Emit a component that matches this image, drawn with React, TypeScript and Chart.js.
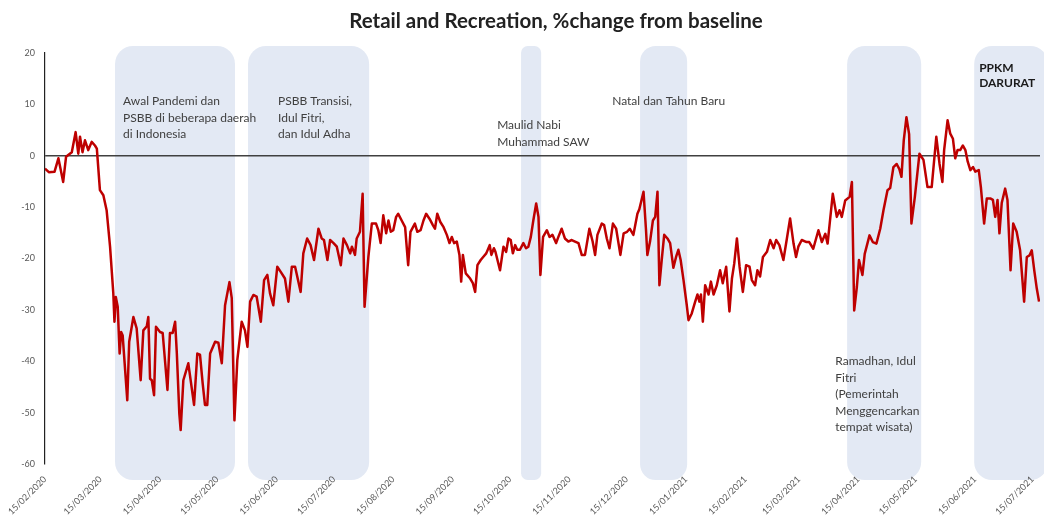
import React, { useEffect, useRef } from "react";
import { Chart, registerables } from "chart.js";

Chart.register(...registerables);

// Days since 15/02/2020 (vertices)
const dayIndex = [
  0, 2, 5, 7, 9.5, 11, 14, 16, 17.4, 18.3, 19.6, 20.9, 22.6, 24.4, 26.1, 27.1, 28.7, 30.5, 32.2, 34,
  35.7, 36.3, 37, 38, 39, 39.8, 40.6, 43, 44, 46.2, 47.9, 50, 51.4, 53.2, 54, 54.9, 55.8, 57, 58, 60.1,
  61.5, 64, 65.3, 66.7, 68, 68.9, 70.2, 70.9, 72.3, 74.9, 77.9, 79.6, 81, 82.4, 83.6, 84.8, 86.3, 88.9, 90.6, 92.4,
  94.1, 96.4, 97.6, 99, 100.5, 102.8, 104.5, 105.8, 107.2, 108.9, 110.6, 112.8, 114.5, 116.2, 117.6, 119.3, 121.4, 123.2, 125.4, 127.2,
  129, 130.7, 133.6, 135, 137, 138.8, 140.6, 142.9, 144.6, 145.8, 147.6, 149, 150.8, 152.5, 154.6, 156, 157.8, 159.5, 160.4, 162,
  162.9, 164.6, 166, 167, 169, 170.8, 173, 174.2, 175.4, 176.8, 178.3, 179.5, 180.7, 182, 183.5, 184.6, 186.4, 188.2, 189.8, 191,
  193.3, 194.6, 196.3, 197.8, 199.2, 201, 202.7, 203.8, 205, 206.6, 208.3, 210, 211.4, 212.6, 213.8, 215.2, 216.6, 217.5, 218.4, 219.9,
  222.2, 223.6, 224.8, 226, 227.7, 229, 230.6, 232.4, 233.3, 234.6, 235.4, 237.8, 239.6, 241, 242.2, 243.4, 244.5, 245.7, 246.8, 248.2,
  250, 251.4, 252.6, 253.9, 255.2, 256.7, 257.9, 258.9, 260.3, 262.3, 263.7, 265.2, 267.1, 268.3, 270, 271.7, 273.5, 275.3, 277, 278.8,
  280.5, 282.2, 284.5, 286.2, 287.5, 288.7, 291, 292.2, 293.6, 295, 296.8, 298.5, 300.7, 302.4, 304.2, 305.6, 307.5, 309.6, 310.6, 312.8,
  314.1, 314.8, 316.2, 317.7, 318.9, 320.1, 321.1, 322.3, 323.6, 325.3, 326.7, 328.4, 329.8, 331, 332.2, 333.7, 335.4, 336.3, 338, 339.8,
  341, 342, 342.8, 343.8, 345, 346.8, 348, 349.4, 351.1, 352.8, 354.2, 356, 357.7, 359, 360.2, 361.6, 363, 364.7, 366.4, 368.2,
  369.4, 371.1, 372.3, 373.7, 375.2, 377.3, 379, 380.8, 382.1, 383.8, 385.9, 387.6, 389.4, 391.2, 392.5, 393.7, 395.5, 398, 399.4, 401.5,
  404.2, 406, 407.8, 409, 411.7, 413.8, 415.2, 416.4, 418.2, 420.5, 421.7, 422.9, 424.3, 425.4, 427.2, 428.4, 430.9, 432.6, 434.5, 436.5,
  438.2, 440.3, 441.7, 443.4, 445.1, 446.5, 447.6, 448.8, 450.2, 451.6, 452.8, 454.6, 457, 459.1, 461.2, 463.4, 465.8, 467.5, 469, 469.9,
  471.7, 473.1, 474.5, 475.7, 476.9, 478.3, 479.7, 481, 482.2, 483.6, 485, 486.2, 488, 489.1, 490.8, 492.2, 494, 495.4, 496.6, 497.8,
  498.8, 500, 501.8, 503, 504.6, 506, 507.8, 509.6, 511.7, 513.1, 514.5, 515.7, 517, 518.3, 519.5,
];

// Retail and Recreation, % change from baseline
const changePct = [
  -2.5, -3.2, -3.1, -0.5, -5.1, -0.2, 0.7, 4.6, 0.4, 3.7, 0.7, 3.0, 1.1, 2.7, 2.0, 1.4, -6.7, -7.7, -10.6, -17.7,
  -26.8, -32.3, -27.5, -29.4, -38.5, -34.3, -35, -47.6, -36.2, -31.4, -33.6, -43.7, -34, -33.2, -31.4, -43.4, -43.7, -46.6, -33.3, -34.3,
  -34.5, -45.6, -34.5, -34.5, -32.3, -38.5, -50.2, -53.4, -43.7, -40.4, -48.5, -38.5, -38.7, -44.3, -48.5, -48.5, -38.5, -36.2, -36.4, -40.4,
  -29.1, -24.6, -27.7, -51.5, -39.8, -32.3, -34, -37.2, -28.4, -27.1, -27.4, -32.3, -24.2, -23.2, -26.8, -29.1, -21.6, -22.6, -23.9, -28.4,
  -21.6, -21.6, -26.5, -19.0, -16.1, -17.4, -20.3, -14.2, -16.1, -16.4, -20.3, -16.4, -17.0, -17.7, -21.3, -16.1, -17.4, -19.0, -17.7, -19.3,
  -16.1, -14.8, -7.4, -29.4, -19.7, -13.2, -13.2, -14.5, -17.0, -11.6, -15.1, -12.6, -14.8, -14.5, -11.9, -11.3, -12.6, -13.9, -21.3, -14.8,
  -13.2, -14.8, -14.5, -12.6, -11.3, -12.3, -13.5, -14.2, -11.3, -12.9, -13.9, -15.4, -17.0, -15.8, -17.0, -16.7, -19.3, -24.5, -19.3, -22.9,
  -23.9, -24.8, -26.5, -21.3, -20.3, -19.7, -19.0, -17.4, -19.3, -18.0, -18.7, -22.3, -17.7, -18.7, -16.1, -16.4, -19.0, -17.4, -18.3, -18.3,
  -17.0, -18.0, -17.7, -15.8, -12.6, -9.3, -11.9, -23.2, -15.8, -14.5, -15.8, -15.4, -17.0, -15.8, -14.2, -16.1, -16.7, -16.4, -16.7, -17.0,
  -19.3, -19.3, -14.2, -16.7, -19.3, -15.4, -13.2, -13.5, -16.1, -18.0, -13.2, -14.2, -19.3, -15.1, -14.8, -14.2, -15.4, -11.3, -10.4, -7.0,
  -14.5, -19.3, -16.7, -12.6, -11.9, -7.0, -25.2, -20.3, -15.4, -16.1, -17.0, -21.8, -19.7, -18.3, -20.3, -24.2, -29.1, -32.0, -30.7, -28.4,
  -27.0, -28.4, -27.0, -32.3, -25.2, -27.0, -24.5, -27.0, -25.2, -22.3, -24.8, -21.6, -30.3, -23.9, -21.0, -16.1, -21.6, -26.5, -21.3, -21.6,
  -24.2, -25.2, -22.3, -23.5, -19.7, -18.7, -16.4, -18.0, -16.4, -17.4, -20.3, -16.4, -12.2, -17.1, -19.7, -17.7, -16.4, -16.8, -16.8, -18.1,
  -14.5, -16.8, -15.2, -17.1, -7.4, -11.9, -10.6, -11.9, -8.7, -8.0, -5.1, -30.1, -25.5, -20.3, -23.2, -19.1, -15.5, -16.8, -17.1, -14.2,
  -10.6, -6.7, -6.3, -2.2, -1.6, -2.6, -4.1, 3.0, 7.5, 4.2, -13.2, -8.0, 0.4, -0.8, -6.1, -6.1, 3.7, -1.6, -5.1, 1.1,
  6.9, 4.3, 3.3, -0.5, 1.1, 1.1, 2.0, 1.1, -1.1, -2.8, -2.2, -3.1, -2.8, -6.1, -13.2, -8.3, -8.3, -8.6, -11.9, -8.6,
  -15.1, -9.2, -6.4, -8.6, -22.3, -13.2, -14.8, -18.4, -28.4, -19.7, -19.4, -18.4, -22.3, -25.8, -28.4,
];

const monthTickLabels = [
  "15/02/2020", "15/03/2020", "15/04/2020", "15/05/2020", "15/06/2020", "15/07/2020",
  "15/08/2020", "15/09/2020", "15/10/2020", "15/11/2020", "15/12/2020", "15/01/2021",
  "15/02/2021", "15/03/2021", "15/04/2021", "15/05/2021", "15/06/2021", "15/07/2021",
];

const yTickValues = [20, 10, 0, -10, -20, -30, -40, -50, -60];

// Shaded periods (days since 15/02/2020)
const bandStartDay = [36.6, 106.1, 248.8, 311, 419.2, 485.6];
const bandEndDay = [99.3, 169.4, 259.3, 335.6, 457.9, 524.3];

// Annotation texts and their anchors (day, value of first line)
const noteLines = [
  ["Awal Pandemi dan", "PSBB di beberapa daerah", "di Indonesia"],
  ["PSBB Transisi,", "Idul Fitri,", "dan Idul Adha"],
  ["Maulid Nabi", "Muhammad SAW"],
  ["Natal dan Tahun Baru"],
  ["PPKM", "DARURAT"],
  ["Ramadhan, Idul", "Fitri", "(Pemerintah", "Menggencarkan", "tempat wisata)"],
];
const noteDay = [40.8, 121.8, 236.3, 296.4, 488.2, 413];
const noteValue = [10.6, 10.6, 5.9, 10.6, 17.0, -40.0];
const noteBold = [false, false, false, false, true, false];

const TITLE = "Retail and Recreation, %change from baseline";

function dayOfLabel(label: string): number {
  const [d, m, y] = label.split("/").map(Number);
  return (Date.UTC(y, m - 1, d) - Date.UTC(2020, 1, 15)) / 86400000;
}

const bandsPlugin = {
  id: "bands",
  beforeDraw(chart: any) {
    const { ctx, chartArea, scales } = chart;
    const x = scales.x;
    ctx.save();
    ctx.fillStyle = "#E3E9F4";
    bandStartDay.forEach((s, i) => {
      const x0 = x.getPixelForValue(s);
      const x1 = x.getPixelForValue(bandEndDay[i]);
      const top = chartArea.top - 7;
      const bottom = chartArea.bottom + 16;
      const r = Math.min(18, (x1 - x0) / 3);
      ctx.beginPath();
      ctx.roundRect(x0, top, x1 - x0, bottom - top, r);
      ctx.fill();
    });
    ctx.restore();
  },
};

const titlePlugin = {
  id: "customTitle",
  afterDraw(chart: any) {
    const { ctx } = chart;
    ctx.save();
    ctx.font = "bold 20.5px Lato";
    ctx.fillStyle = "#222222";
    ctx.textAlign = "center";
    ctx.textBaseline = "middle";
    ctx.fillText(TITLE, 556, 21);
    ctx.restore();
  },
};

const notesPlugin = {
  id: "notes",
  afterDatasetsDraw(chart: any) {
    const { ctx, scales } = chart;
    ctx.save();
    ctx.textAlign = "left";
    ctx.textBaseline = "middle";
    noteLines.forEach((lines, i) => {
      const px = scales.x.getPixelForValue(noteDay[i]);
      const py = scales.y.getPixelForValue(noteValue[i]);
      const bold = noteBold[i];
      ctx.font = `${bold ? "bold " : ""}12px Lato`;
      ctx.fillStyle = bold ? "#1a1a1a" : "#404040";
      const lh = bold ? 15 : 16.5;
      lines.forEach((t, j) => ctx.fillText(t, px, py + j * lh));
    });
    ctx.restore();
  },
};

export default function App() {
  const canvasRef = useRef<HTMLCanvasElement | null>(null);

  useEffect(() => {
    const canvas = canvasRef.current;
    if (!canvas) return;
    const chart = new Chart(canvas, {
      type: "line",
      data: {
        datasets: [
          {
            data: dayIndex.map((d, i) => ({ x: d, y: changePct[i] })),
            borderColor: "#BE0000",
            borderWidth: 2.5,
            pointRadius: 0,
            tension: 0,
            fill: false,
            borderJoinStyle: "round",
          },
        ],
      },
      options: {
        animation: false,
        responsive: false,
        maintainAspectRatio: false,
        layout: { padding: { left: 0, right: 4, top: 53, bottom: 0 } },
        plugins: {
          legend: { display: false },
          tooltip: { enabled: false },
          title: { display: false },
        },
        scales: {
          x: {
            type: "linear",
            min: 0,
            max: 520,
            grid: { display: false },
            border: { display: false },
            afterBuildTicks: (s: any) => {
              s.ticks = monthTickLabels.map((l) => ({ value: dayOfLabel(l) }));
            },
            afterFit: (s: any) => {
              s.height = 55;
            },
            ticks: {
              autoSkip: false,
              minRotation: 45,
              maxRotation: 45,
              padding: 2,
              color: "#595959",
              font: { family: "Lato", size: 9 },
              callback: (_v: any, i: number) => monthTickLabels[i],
            },
          },
          y: {
            min: -60,
            max: 20,
            afterBuildTicks: (s: any) => {
              s.ticks = yTickValues.map((v) => ({ value: v }));
            },
            afterFit: (s: any) => {
              s.width = 45;
            },
            ticks: {
              padding: 10,
              color: "#595959",
              font: { family: "Lato", size: 9 },
            },
            grid: {
              drawTicks: false,
              lineWidth: 1.5,
              color: (c: any) => (c.tick && c.tick.value === 0 ? "#404040" : "rgba(0,0,0,0)"),
            },
            border: { display: true, color: "#222222", width: 1.2 },
          },
        },
      },
      plugins: [bandsPlugin, notesPlugin, titlePlugin],
    } as any);
    return () => chart.destroy();
  }, []);

  return (
    <div style={{ position: "absolute", left: 0, top: 0, width: 1044, height: 519, background: "#ffffff" }}>
      <canvas ref={canvasRef} width={1044} height={519} style={{ width: 1044, height: 519 }} />
    </div>
  );
}
